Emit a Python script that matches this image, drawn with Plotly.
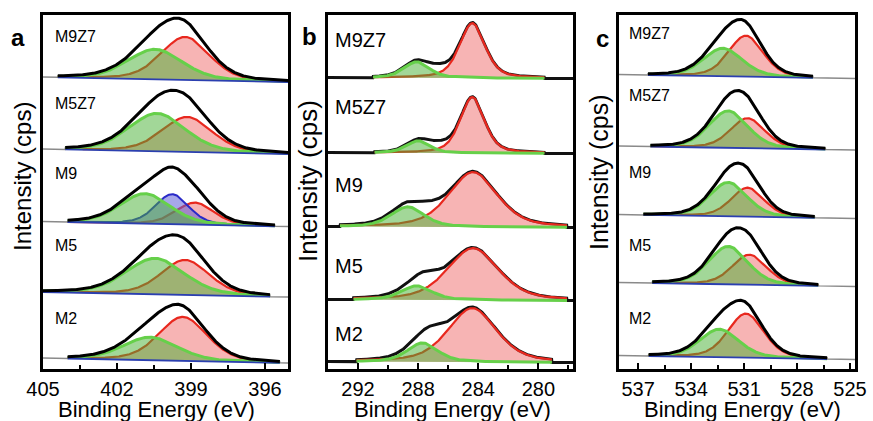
import numpy as np
import plotly.graph_objects as go

W, H = 873, 421

samples = ["M9Z7", "M5Z7", "M9", "M5", "M2"]

# ---------- panel a : N 1s ----------
a_green_c = [400.46, 400.38, 400.87, 400.46, 400.66]
a_green_h = [30, 38, 30, 36, 23]
a_green_w = [2.6, 2.7, 2.4, 2.8, 2.6]
a_red_c = [399.24, 399.16, 398.84, 399.24, 399.33]
a_red_h = [43, 35, 22, 35, 44]
a_red_w = [2.3, 2.4, 1.8, 2.3, 2.3]
a_blue_c = [399.77, 399.77, 399.77, 399.77, 399.77]
a_blue_h = [0, 0, 30, 0, 0]
a_blue_w = [1.6, 1.6, 1.6, 1.6, 1.6]
a_fit_lo = [395.07, 395.07, 395.6, 395.8, 395.4]
a_fit_hi = [404.4, 404.1, 404.0, 405.0, 404.0]
a_extra_c = [399.8] * 5
a_extra_h = [0, 0, 0, 0, 0]

# ---------- panel b : C 1s ----------
b_green_c = [288.1, 288.0, 288.7, 288.1, 287.7]
b_green_h = [16, 12, 20, 14, 19]
b_green_w = [2.0, 1.8, 2.6, 2.4, 2.4]
b_red_c = [284.4, 284.4, 284.35, 284.35, 284.4]
b_red_h = [55, 56, 55, 52, 54]
b_red_w = [2.0, 1.9, 3.8, 4.0, 3.8]
b_blue_c = [284.0] * 5
b_blue_h = [0, 0, 0, 0, 0]
b_blue_w = [1.0] * 5
b_fit_lo = [279.6, 279.6, 278.1, 278.1, 279.1]
b_fit_hi = [291.0, 290.9, 293.2, 292.3, 292.1]
b_extra_c = [286.6, 286.6, 287.2, 287.3, 286.8]
b_extra_h = [5, 5, 4, 6, 6]

# ---------- panel c : O 1s ----------
c_green_c = [532.2, 531.9, 531.9, 531.9, 532.4]
c_green_h = [28, 37, 34, 38, 28]
c_green_w = [2.6, 2.6, 2.5, 2.6, 2.6]
c_red_c = [530.9, 530.8, 530.8, 530.7, 530.9]
c_red_h = [41, 30, 29, 30, 44]
c_red_w = [2.3, 2.3, 2.2, 2.3, 2.4]
c_blue_c = [531.0] * 5
c_blue_h = [0, 0, 0, 0, 0]
c_blue_w = [1.0] * 5
c_fit_lo = [527.1, 526.4, 527.0, 526.8, 526.3]
c_fit_hi = [536.44, 536.3, 536.7, 536.2, 536.4]
c_extra_c = [531.0] * 5
c_extra_h = [0, 0, 0, 0, 0]

# x tick values
a_ticks = [405, 402, 399, 396]
b_ticks = [292, 288, 284, 280]
c_ticks = [537, 534, 531, 528, 525]

# ---------------- layout geometry (px) ----------------
TOP, BOT = 15, 369
panels = [
    dict(key="a", x0=43, x1=288, rng=[405, 395.07], ticks=a_ticks, minor=1.5,
         base=[289.5, 217.5, 145, 74.5, 8.5], tilt=5, raw="#8a8a8a", raww=1.5, eta=0.3,
         gc=a_green_c, gh=a_green_h, gw=a_green_w, rc=a_red_c, rh=a_red_h, rw=a_red_w,
         bc=a_blue_c, bh=a_blue_h, bw=a_blue_w, lo=a_fit_lo, hi=a_fit_hi,
         ec=a_extra_c, eh=a_extra_h,
         lab_x=53, lab_y=[37, 103, 173, 245, 318], lab_fs=16,
         letter=(18, 38), ytitle=(22, 177), ytfs=24, xt=156),
    dict(key="b", x0=328, x1=573, rng=[294, 277.7], ticks=b_ticks, minor=2,
         base=[291, 216, 142, 69, 7], tilt=1, raw="#111111", raww=3, eta=0.45,
         gc=b_green_c, gh=b_green_h, gw=b_green_w, rc=b_red_c, rh=b_red_h, rw=b_red_w,
         bc=b_blue_c, bh=b_blue_h, bw=b_blue_w, lo=b_fit_lo, hi=b_fit_hi,
         ec=b_extra_c, eh=b_extra_h,
         lab_x=333, lab_y=[40, 107, 185, 266, 334], lab_fs=20,
         letter=(309, 37), ytitle=(308, 181), ytfs=26, xt=452),
    dict(key="c", x0=619, x1=855, rng=[538.08, 524.72], ticks=c_ticks, minor=1.5,
         base=[292.5, 221, 152.5, 84.5, 11.5], tilt=4, raw="#8a8a8a", raww=1.5, eta=0.3,
         gc=c_green_c, gh=c_green_h, gw=c_green_w, rc=c_red_c, rh=c_red_h, rw=c_red_w,
         bc=c_blue_c, bh=c_blue_h, bw=c_blue_w, lo=c_fit_lo, hi=c_fit_hi,
         ec=c_extra_c, eh=c_extra_h,
         lab_x=627, lab_y=[33, 96, 172, 245, 318], lab_fs=16,
         letter=(602, 39), ytitle=(599, 172), ytfs=25, xt=742),
]

FONT = "Liberation Sans, Arial, sans-serif"
RED_FILL = "rgba(240,105,105,0.50)"
RED_LINE = "#e8281e"
GREEN_FILL = "rgba(70,175,50,0.50)"
GREEN_LINE = "#66d04a"
BLUE_FILL = "rgba(95,95,215,0.55)"
BLUE_LINE = "#2a2ac8"
BG_LINE = "#2b3fb0"


def pv(E, c, h, w, eta=0.3):
    r = (E - c) / w
    return h * ((1 - eta) * np.exp(-4 * np.log(2) * r ** 2) + eta / (1 + 4 * r ** 2))


fig = go.Figure()
annotations = []

for pi, P in enumerate(panels):
    xa = "x" if pi == 0 else f"x{pi+1}"
    ya = "y" if pi == 0 else f"y{pi+1}"
    emax, emin = P["rng"][0], P["rng"][1]
    emid, span = (emax + emin) / 2, (emax - emin)
    eta = P["eta"]
    Ef = np.linspace(emin, emax, 700)
    for i, s in enumerate(samples):
        off = P["base"][i]

        def bg(E):
            return off + P["tilt"] * (E - emid) / span

        E = np.linspace(P["lo"][i], P["hi"][i], 400)
        b = bg(E)
        red = pv(E, P["rc"][i], P["rh"][i], P["rw"][i], eta)
        green = pv(E, P["gc"][i], P["gh"][i], P["gw"][i], eta)
        blue = pv(E, P["bc"][i], P["bh"][i], P["bw"][i], eta)
        env = red + green + blue

        # raw measurement across the full range
        mask = (Ef >= P["lo"][i]) & (Ef <= P["hi"][i])
        raw = bg(Ef) + np.where(
            mask,
            pv(Ef, P["rc"][i], P["rh"][i], P["rw"][i], eta)
            + pv(Ef, P["gc"][i], P["gh"][i], P["gw"][i], eta)
            + pv(Ef, P["bc"][i], P["bh"][i], P["bw"][i], eta)
            + pv(Ef, P["ec"][i], P["eh"][i], 1.6, 0.0),
            0,
        )
        fig.add_trace(go.Scatter(x=Ef, y=raw, mode="lines", xaxis=xa, yaxis=ya,
                                 line=dict(color=P["raw"], width=P["raww"]),
                                 hoverinfo="skip", showlegend=False))

        def poly(comp, fill, line, lw):
            fig.add_trace(go.Scatter(
                x=np.concatenate([E, E[::-1]]),
                y=np.concatenate([b + comp, b[::-1]]),
                mode="lines", fill="toself", fillcolor=fill,
                line=dict(width=0), xaxis=xa, yaxis=ya,
                hoverinfo="skip", showlegend=False))
            fig.add_trace(go.Scatter(x=E, y=b + comp, mode="lines", xaxis=xa, yaxis=ya,
                                     line=dict(color=line, width=lw),
                                     hoverinfo="skip", showlegend=False))

        poly(red, RED_FILL, RED_LINE, 2.2)
        if P["bh"][i] > 0:
            poly(blue, BLUE_FILL, BLUE_LINE, 2.0)
        poly(green, GREEN_FILL, GREEN_LINE, 3.0)
        if P["key"] != "b":
            fig.add_trace(go.Scatter(x=E, y=b, mode="lines", xaxis=xa, yaxis=ya,
                                     line=dict(color=BG_LINE, width=1.8),
                                     hoverinfo="skip", showlegend=False))
            fig.add_trace(go.Scatter(x=E, y=b + env, mode="lines", xaxis=xa, yaxis=ya,
                                     line=dict(color="black", width=3),
                                     hoverinfo="skip", showlegend=False))

        annotations.append(dict(
            x=P["lab_x"] / W, y=1 - P["lab_y"][i] / H, xref="paper", yref="paper",
            text=s, showarrow=False, xanchor="left", yanchor="middle",
            font=dict(family=FONT, size=P["lab_fs"], color="black")))

    annotations.append(dict(
        x=P["letter"][0] / W, y=1 - P["letter"][1] / H, xref="paper", yref="paper",
        text="<b>%s</b>" % P["key"], showarrow=False, xanchor="center", yanchor="middle",
        font=dict(family=FONT, size=24, color="black")))
    annotations.append(dict(
        x=P["ytitle"][0] / W, y=1 - P["ytitle"][1] / H, xref="paper", yref="paper",
        text="Intensity (cps)", textangle=-90, showarrow=False,
        xanchor="center", yanchor="middle",
        font=dict(family=FONT, size=P["ytfs"], color="black")))
    annotations.append(dict(
        x=P["xt"] / W, y=1 - 409 / H, xref="paper", yref="paper",
        text="Binding Energy (eV)", showarrow=False,
        xanchor="center", yanchor="middle",
        font=dict(family=FONT, size=22, color="black")))

    xdom = [P["x0"] / W, P["x1"] / W]
    ydom = [1 - BOT / H, 1 - TOP / H]
    xkey = "xaxis" if pi == 0 else f"xaxis{pi+1}"
    ykey = "yaxis" if pi == 0 else f"yaxis{pi+1}"
    fig.update_layout(**{
        xkey: dict(domain=xdom, range=P["rng"], anchor=ya, showgrid=False, zeroline=False,
                   automargin=False,
                   showline=True, linecolor="black", linewidth=2.5, mirror=True,
                   tickmode="array", tickvals=P["ticks"], ticks="inside", ticklen=6,
                   tickwidth=2, tickcolor="black",
                   minor=dict(dtick=P["minor"], tick0=P["ticks"][0], ticks="inside",
                              ticklen=4, tickwidth=1.5, tickcolor="black"),
                   tickfont=dict(family=FONT, size=20, color="black")),
        ykey: dict(domain=ydom, range=[0, BOT - TOP], anchor=xa, showgrid=False,
                   automargin=False,
                   zeroline=False, showline=True, linecolor="black", linewidth=2.5,
                   mirror=True, ticks="", showticklabels=False),
    })

fig.update_layout(width=W, height=H, margin=dict(l=0, r=0, t=0, b=0, autoexpand=False),
                  paper_bgcolor="white", plot_bgcolor="white",
                  annotations=annotations, showlegend=False)

fig.write_html("out.html",
               config={"displayModeBar": False},
               post_script="document.body.style.margin='0px';"
                           "document.body.style.overflow='hidden';")
